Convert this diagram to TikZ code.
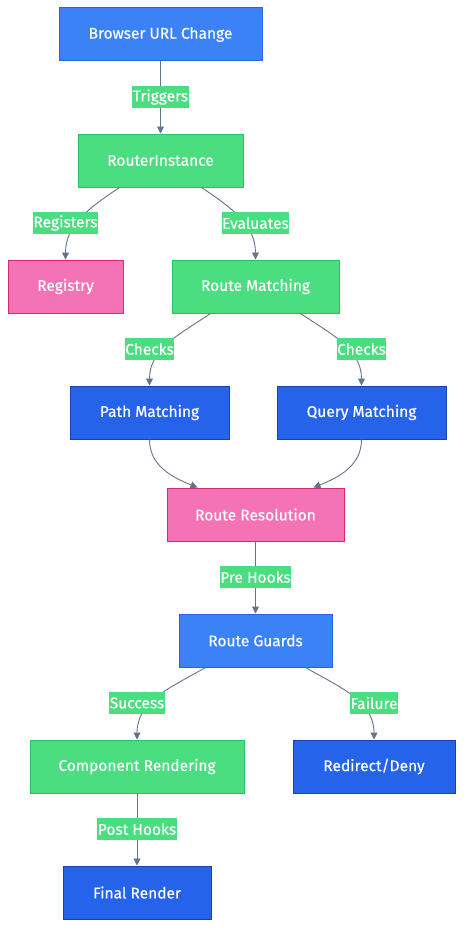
\documentclass[tikz,border=0pt]{standalone}
\usepackage{fontspec}
\setmainfont{Fira Sans}[FakeBold=0.4]
\usetikzlibrary{arrows.meta}
\definecolor{lblue}{HTML}{3B82F6}
\definecolor{lbluestroke}{HTML}{2563EB}
\definecolor{dblue}{HTML}{2563EB}
\definecolor{dbluestroke}{HTML}{1E40AF}
\definecolor{gfill}{HTML}{4ADE80}
\definecolor{gstroke}{HTML}{22C55E}
\definecolor{pfill}{HTML}{F472B6}
\definecolor{pstroke}{HTML}{DB2777}
\definecolor{edgec}{HTML}{64748B}
\tikzset{
  box/.style={draw, line width=1pt, minimum height=53pt, inner sep=0pt, text=white, font=\fontsize{15.5}{17}\selectfont},
  lb/.style={box, fill=lblue, draw=lbluestroke},
  db/.style={box, fill=dblue, draw=dbluestroke},
  gb/.style={box, fill=gfill, draw=gstroke},
  pb/.style={box, fill=pfill, draw=pstroke},
  elab/.style={fill=gfill, text=white, inner xsep=0.5pt, inner ysep=0pt, minimum height=22pt, font=\fontsize{15.5}{17}\selectfont},
  edge/.style={draw=edgec, line width=0.9pt, -{Triangle[length=7pt,width=7pt]}}
}
\begin{document}
\begin{tikzpicture}[x=1pt,y=-1pt]
\useasboundingbox (0,0) rectangle (471,942);
\node[lb, minimum width=203pt] (buc) at (160.5,34.5) {Browser URL Change};
\node[gb, minimum width=165pt] (ri) at (160.5,160.5) {RouterInstance};
\node[pb, minimum width=115pt] (reg) at (65.5,286.5) {Registry};
\node[gb, minimum width=167pt] (rm) at (255.5,286.5) {Route Matching};
\node[db, minimum width=159pt] (pm) at (149.5,412.5) {Path Matching};
\node[db, minimum width=169pt] (qm) at (361.5,412.5) {Query Matching};
\node[pb, minimum width=177pt] (rr) at (255.5,514.5) {Route Resolution};
\node[lb, minimum width=153pt] (rg) at (255.5,640.5) {Route Guards};
\node[gb, minimum width=214pt] (cr) at (137,766.5) {Component Rendering};
\node[db, minimum width=162pt] (rd) at (374,766.5) {Redirect/Deny};
\node[db, minimum width=148pt] (fr) at (137,892.5) {Final Render};

\draw[edge] (buc.south) -- (ri.north);
\draw[edge] ([xshift=-41pt]ri.south) to[out=-146,in=90] (reg.north);
\draw[edge] ([xshift=41pt]ri.south) to[out=-34,in=90] (rm.north);
\draw[edge] ([xshift=-45pt]rm.south) to[out=-146,in=90] (pm.north);
\draw[edge] ([xshift=45pt]rm.south) to[out=-34,in=90] (qm.north);
\draw[edge] (pm.south) to[out=-90,in=158] ([xshift=-58pt]rr.north);
\draw[edge] (qm.south) to[out=-90,in=22] ([xshift=58pt]rr.north);
\draw[edge] (rr.south) -- (rg.north);
\draw[edge] ([xshift=-50pt]rg.south) to[out=-150,in=90] (cr.north);
\draw[edge] ([xshift=50pt]rg.south) to[out=-30,in=90] (rd.north);
\draw[edge] (cr.south) -- (fr.north);

\node[elab] (l1) at (160.5,97) {Triggers};
\node[elab] (l2) at (65.5,223) {Registers};
\node[elab] (l3) at (255.5,223) {Evaluates};
\node[elab] (l4) at (149.5,349) {Checks};
\node[elab] (l5) at (361.5,349) {Checks};
\node[elab] (l6) at (255.5,577) {Pre Hooks};
\node[elab] (l7) at (137,703) {Success};
\node[elab] (l8) at (374,703) {Failure};
\node[elab] (l9) at (137,829) {Post Hooks};
\end{tikzpicture}
\end{document}
